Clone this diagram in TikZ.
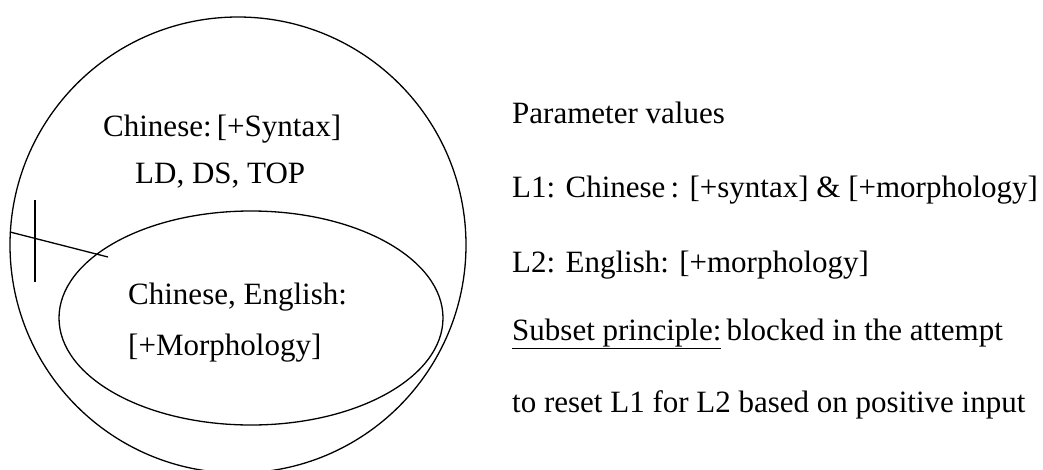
\documentclass[tikz,border=0pt]{standalone}
\usepackage{fontspec}
\setmainfont{Liberation Serif}
\begin{document}
\begin{tikzpicture}[x=1pt,y=-1pt,
  curve/.style={line width=1.3pt},
  txt/.style={anchor=base west,inner sep=0pt,font=\fontsize{31}{37}\selectfont}]
\useasboundingbox (0,0) rectangle (1043,469);
\clip (0,0) rectangle (1043,469);
\fill[white] (0,0) rectangle (1043,469);
% outer set
\draw[curve] (238,245) ellipse [x radius=228, y radius=228];
% inner set
\draw[curve] (251,318) ellipse [x radius=192, y radius=107];
% pointer lines
\coordinate (pa) at (10,232);
\coordinate (pb) at (108,257);
\coordinate (va) at (35,200);
\coordinate (vb) at (35,282);
\draw[curve] (pa) -- (pb);
\draw[curve] (va) -- (vb);
% texts in circles
\node[txt] (t1) at (103,136) {Chinese:\,[+Syntax]};
\node[txt] (t2) at (135,183) {LD, DS, TOP};
\node[txt] (t3) at (128,304) {Chinese, English:};
\node[txt] (t4) at (128,355) {[+Morphology]};
% right column
\node[txt] (r1) at (512,123) {Parameter values};
\node[txt] (r2) at (512,197) {L1: Chinese\,: [+syntax] \& [+morphology]};
\node[txt] (r3) at (512,272) {L2: English: [+morphology]};
\node[txt] (r4) at (512,340) {\underline{Subset principle:}\,blocked in the attempt};
\node[txt] (r5) at (512,412) {to reset L1 for L2 based on positive input};
\end{tikzpicture}
\end{document}
